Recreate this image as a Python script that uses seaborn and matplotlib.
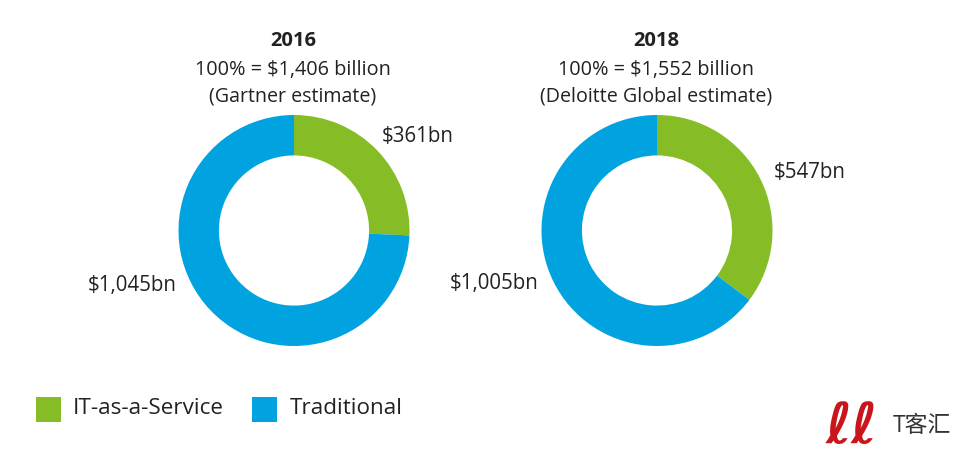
import matplotlib
matplotlib.use("Agg")
import matplotlib.pyplot as plt
import seaborn as sns
from matplotlib.patches import Rectangle

years = ["2016", "2018"]
totals = ["100% = $1,406 billion", "100% = $1,552 billion"]
sources = ["(Gartner estimate)", "(Deloitte Global estimate)"]
service_values = [361, 547]
traditional_values = [1045, 1005]
service_labels = ["$361bn", "$547bn"]
traditional_labels = ["$1,045bn", "$1,005bn"]
legend_names = ["IT-as-a-Service", "Traditional"]
watermark = "T客汇"

sns.set_theme(style="white")
plt.rcParams["font.family"] = ["Open Sans", "Noto Sans CJK SC", "DejaVu Sans"]

green = "#86bc25"
blue = "#00a3e0"
text_col = "#222222"
W, H = 960, 457

fig = plt.figure(figsize=(W / 100, H / 100), dpi=100)


def place_axes(cx, cy, r):
    return fig.add_axes([(cx - r) / W, 1 - (cy + r) / H, 2 * r / W, 2 * r / H])


def put(x, y, s, **kw):
    fig.text(x / W, 1 - y / H, s, va="center", color=text_col, **kw)


centers = [294, 657]
service_pos = [(417.5, 137), (809.5, 172)]
trad_pos = [(132, 286), (494.5, 283)]

for i in range(2):
    ax = place_axes(centers[i], 230.5, 115.5)
    ax.pie([service_values[i], traditional_values[i]], colors=[green, blue],
           startangle=90, counterclock=False, radius=1,
           wedgeprops=dict(width=0.35, linewidth=0))
    ax.set_xlim(-1, 1)
    ax.set_ylim(-1, 1)
    put(centers[i] - 1, 41.5, years[i], ha="center", fontsize=14.5, fontweight="bold")
    put(centers[i] - 1, 69.5, totals[i], ha="center", fontsize=14.3)
    put(centers[i] - 1, 96.5, sources[i], ha="center", fontsize=14.1)
    put(*service_pos[i], service_labels[i], ha="center", fontsize=14.8)
    put(*trad_pos[i], traditional_labels[i], ha="center", fontsize=14.8)

# legend
for x, c, name, tx in zip([36, 252], [green, blue], legend_names, [73, 290]):
    fig.add_artist(Rectangle((x / W, 1 - 422 / H), 25 / W, 25 / H,
                             transform=fig.transFigure, color=c, lw=0))
    put(tx, 408, name, ha="left", fontsize=16.2)

# watermark
fig.text(852 / W, 1 - 428 / H, "ℓℓ", color="#c8161c", fontsize=40, fontstyle="italic",
         fontweight="bold", family="DejaVu Sans", va="center", ha="center")
fig.text(893 / W, 1 - 426 / H, watermark, color="#333333", fontsize=16.5, va="center", ha="left")

fig.savefig("out.png", dpi=100)
